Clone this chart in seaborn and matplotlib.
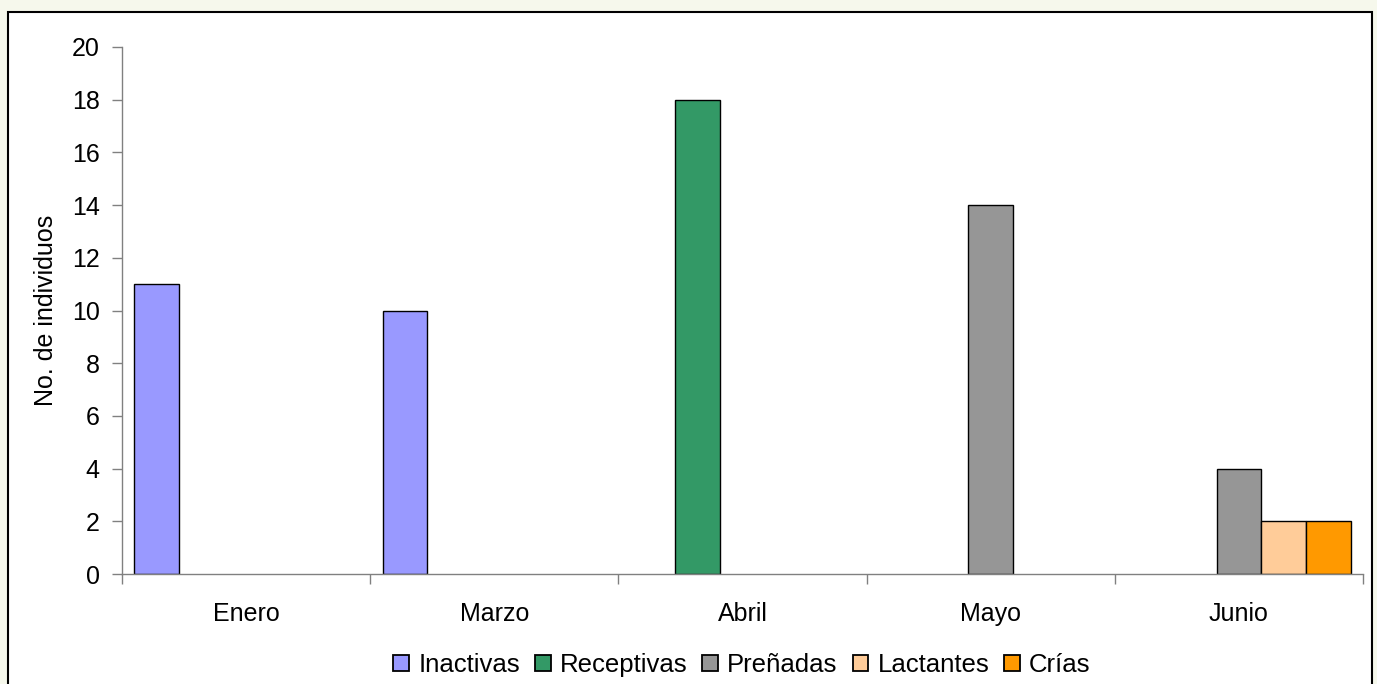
import matplotlib
matplotlib.use("Agg")
import matplotlib.pyplot as plt
import seaborn as sns
import pandas as pd
from matplotlib.patches import Rectangle, Patch

months = ["Enero", "Marzo", "Abril", "Mayo", "Junio"]
series = ["Inactivas", "Receptivas", "Preñadas", "Lactantes", "Crías"]
inactivas = [11, 10, 0, 0, 0]
receptivas = [0, 0, 18, 0, 0]
prenadas = [0, 0, 0, 14, 4]
lactantes = [0, 0, 0, 0, 2]
crias = [0, 0, 0, 0, 2]
colors = ["#9999FF", "#339966", "#969696", "#FFCC99", "#FF9900"]

rows = []
for s, vals in zip(series, [inactivas, receptivas, prenadas, lactantes, crias]):
    for m, v in zip(months, vals):
        if v > 0:
            rows.append({"Mes": m, "Estado": s, "N": v})
df = pd.DataFrame(rows)

sns.set_theme(style="white")
plt.rcParams["font.family"] = ["Liberation Sans", "DejaVu Sans"]
plt.rcParams["text.color"] = "black"

fig = plt.figure(figsize=(13.77, 6.84), dpi=100)
fig.patch.set_facecolor("#F6F8EC")
W, H = 1377, 684
panel = Rectangle((8 / W, -0.02), (1372 - 8) / W, (H - 12) / H + 0.02,
                  transform=fig.transFigure, facecolor="white",
                  edgecolor="black", linewidth=1.5, zorder=-10)
fig.add_artist(panel)

ax = fig.add_axes([122 / W, 1 - 574 / H, (1363 - 122) / W, (574 - 47) / H])
ax.set_zorder(5)
ax.set_facecolor("none")
sns.barplot(data=df, x="Mes", y="N", hue="Estado", order=months, hue_order=series,
            palette=colors, width=0.9, gap=0, edgecolor="black", linewidth=1.0,
            saturation=1, dodge=True, ax=ax, legend=False)

ax.set_xlim(-0.5, 4.5)
ax.set_ylim(0, 20)
ax.set_yticks(range(0, 21, 2))
ax.set_xticks(range(5))
ax.set_xticks([i - 0.5 for i in range(6)], minor=True)
ax.tick_params(axis="x", which="major", length=0, labelsize=18, pad=20, colors="black")
ax.tick_params(axis="x", which="minor", length=7, width=1, color="#808080", direction="out", bottom=True)
ax.tick_params(axis="y", which="major", length=7, width=1, color="#808080", direction="out",
               labelsize=18, pad=9, left=True, labelcolor="black")
ax.set_xlabel("")
ax.set_ylabel("No. de individuos", fontsize=18, labelpad=10, color="black")
for side in ["top", "right"]:
    ax.spines[side].set_visible(False)
for side in ["left", "bottom"]:
    ax.spines[side].set_color("#808080")
    ax.spines[side].set_linewidth(1.0)

handles = [Patch(facecolor=c, edgecolor="black", linewidth=1.3) for c in colors]
fig.legend(handles, series, loc="center", bbox_to_anchor=(742 / W, 1 - 665 / H), ncol=5,
           frameon=False, fontsize=18.5, handlelength=0.62, handleheight=0.62,
           handletextpad=0.35, columnspacing=0.58, borderaxespad=0, borderpad=0,
           labelcolor="black")

fig.savefig("out.png", dpi=100, facecolor=fig.get_facecolor())
